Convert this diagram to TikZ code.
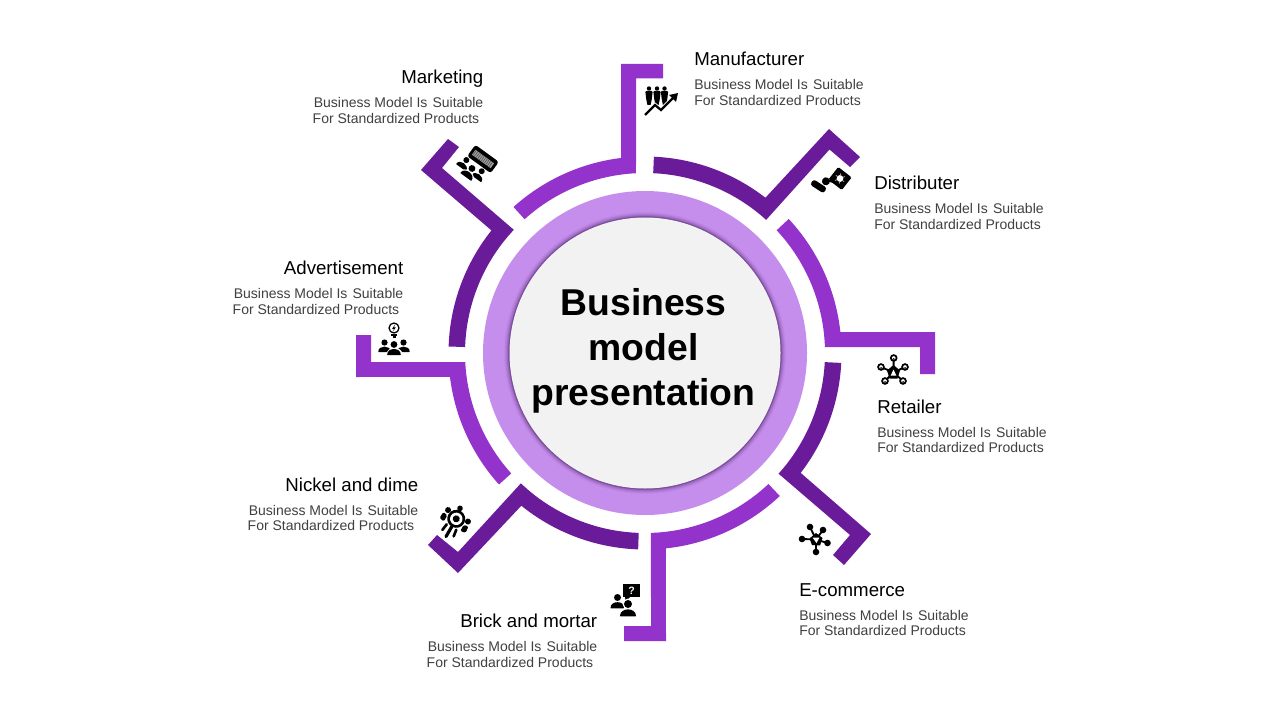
\documentclass[tikz,border=0pt]{standalone}
\usepackage{fontspec}
\setmainfont{Liberation Sans}
\usetikzlibrary{calc}
\definecolor{segL}{HTML}{9433CB}
\definecolor{segD}{HTML}{6A1B9A}
\definecolor{ringC}{HTML}{C58EEC}
\definecolor{discC}{HTML}{F2F2F2}
\definecolor{subC}{HTML}{404040}
\tikzset{
  seglight/.style={fill=segL},
  segdark/.style={fill=segD},
  headtext/.style={inner sep=0pt,font=\fontsize{14}{16}\selectfont,text=black},
  subtext/.style={inner sep=0pt,font=\fontsize{10.5}{12}\selectfont,text=subC}
}
\newcommand{\manL}[6]{%
  \node[headtext,anchor=base west] (#1h) at (#2,#3) {#4};
  \node[subtext,anchor=base west] (#1a) at (#2,#3+24) {#5};
  \node[subtext,anchor=base west] (#1b) at (#2,#3+39.6) {#6};}
\newcommand{\manR}[6]{%
  \node[headtext,anchor=base east] (#1h) at (#2,#3) {#4};
  \node[subtext,anchor=base east] (#1a) at (#2,#3+24) {#5};
  \node[subtext,anchor=base east] (#1b) at (#2-4,#3+39.6) {#6};}
% person: head centre x,y radius r
\newcommand{\pers}[3]{%
  \fill[black] (#1,#2) circle[radius=#3];
  \fill[black,rounded corners=0.4pt] ({#1-2*#3},{#2+3.1*#3}) .. controls ({#1-2*#3},{#2+0.8*#3}) and ({#1+2*#3},{#2+0.8*#3}) .. ({#1+2*#3},{#2+3.1*#3}) -- cycle;}
\newcommand{\persW}[3]{%
  \fill[white] ({#1-2.5*#3},{#2+3.5*#3}) .. controls ({#1-2.5*#3},{#2+0.1*#3}) and ({#1+2.5*#3},{#2+0.1*#3}) .. ({#1+2.5*#3},{#2+3.5*#3}) -- cycle;
  \fill[white] (#1,#2) circle[radius=1.35*#3];
  \pers{#1}{#2}{#3}}
\begin{document}
\begin{tikzpicture}[x=0.75pt,y=-0.75pt]
\useasboundingbox (0,0) rectangle (1280,720);
\fill[white] (0,0) rectangle (1280,720);
\coordinate (c) at (645,353);
% centre rings
\fill[ringC] (c) circle[radius=162];
\foreach \rr/\oo in {141/0.04,140/0.06,139/0.08,138/0.12,137/0.16,136.5/0.2}{
  \fill[black!50!segD,opacity=\oo] (c) circle[radius=\rr];}
\fill[discC] (c) circle[radius=135.5];
% segments
\fill[seglight] ($(c)+(-132:196.5)$) arc[start angle=-132,end angle=-97,radius=196.5]
  -- (621,64) -- (663,64) -- (663,78.5) -- (636,78.5)
  -- ($(c)+(-92.87:180)$) arc[start angle=-92.87,end angle=-132,radius=180] -- cycle;
\fill[segdark] ($(c)+(-87.4:196.5)$) arc[start angle=-87.4,end angle=-52.2,radius=196.5]
  -- (829,129) -- (860,157) -- (850,167) -- (829.5,149.5)
  -- ($(c)+(-47.7:180)$) arc[start angle=-47.7,end angle=-87.4,radius=180] -- cycle;
\fill[seglight] ($(c)+(-43:196.5)$) arc[start angle=-43,end angle=-6.1,radius=196.5]
  -- (935,332) -- (935,374) -- (920,374) -- (920,347)
  -- ($(c)+(-1.9:180)$) arc[start angle=-1.9,end angle=-43,radius=180] -- cycle;
\fill[segdark] ($(c)+(2.9:196.5)$) arc[start angle=2.9,end angle=37.6,radius=196.5]
  -- (871,534) -- (844,565) -- (833,555) -- (850,535)
  -- ($(c)+(42.1:180)$) arc[start angle=42.1,end angle=2.9,radius=180] -- cycle;
\fill[seglight] ($(c)+(46.7:196.5)$) arc[start angle=46.7,end angle=83.9,radius=196.5]
  -- (666,641) -- (624,641) -- (624,626) -- (651,626)
  -- ($(c)+(88.1:180)$) arc[start angle=88.1,end angle=46.7,radius=180] -- cycle;
\fill[segdark] ($(c)+(92:196.5)$) arc[start angle=92,end angle=129,radius=196.5]
  -- (458,573) -- (428,545) -- (437,535) -- (458,552)
  -- ($(c)+(133.6:180)$) arc[start angle=133.6,end angle=92,radius=180] -- cycle;
\fill[seglight] ($(c)+(138:196.5)$) arc[start angle=138,end angle=173,radius=196.5]
  -- (356,377) -- (356,335) -- (371,335) -- (371,362)
  -- ($(c)+(177.13:180)$) arc[start angle=177.13,end angle=138,radius=180] -- cycle;
\fill[segdark] ($(c)+(181.9:196.5)$) arc[start angle=181.9,end angle=218.6,radius=196.5]
  -- (421,170) -- (448,139) -- (459,147) -- (442,168)
  -- ($(c)+(223.2:180)$) arc[start angle=223.2,end angle=181.9,radius=180] -- cycle;
% title
\node[inner sep=0pt,align=center,font=\fontsize{28}{33.75}\selectfont\bfseries,text=black] (title) at (643.5,351) {Business\\model\\presentation};
% labels
\manL{man}{694}{65.5}{Manufacturer}{Business Model Is\hspace{1pt} Suitable}{For Standardized Products}
\manL{dis}{874}{189.5}{Distributer}{Business Model Is\hspace{1pt} Suitable}{For Standardized Products}
\manL{ret}{877}{413}{Retailer}{Business Model Is\hspace{1pt} Suitable}{For Standardized Products}
\manL{eco}{799}{596}{E-commerce}{Business Model Is\hspace{1pt} Suitable}{For Standardized Products}
\manR{mkt}{483.5}{84}{Marketing}{Business Model Is\hspace{1pt} Suitable}{For Standardized Products}
\manR{adv}{403.5}{274.5}{Advertisement}{Business Model Is\hspace{1pt} Suitable}{For Standardized Products}
\manR{nic}{418.5}{491}{Nickel and dime}{Business Model Is\hspace{1pt} Suitable}{For Standardized Products}
\manR{bri}{597.5}{627.5}{Brick and mortar}{Business Model Is\hspace{1pt} Suitable}{For Standardized Products}
% icon: manufacturer
\foreach \xx in {649,657,664.5}{
  \fill[black] (\xx,88.5) circle[radius=2.2];
  \fill[black] (\xx-3.6,92) -- (\xx-2.5,91) -- (\xx+2.5,91) -- (\xx+3.6,92) -- (\xx+2.8,99) -- (\xx+1.6,105) -- (\xx-1.6,105) -- (\xx-2.8,99) -- cycle;}
\draw[white,line width=3pt] (645,115) -- (655,105) -- (661,110) -- (676,95);
\draw[black,line width=1.7pt] (645,115) -- (655,105) -- (661,110) -- (674,97);
\fill[black] (678,93) -- (676,102) -- (669,95) -- cycle;
% icon: distributer
\begin{scope}[shift={(820,184)},rotate=-33]
  \fill[black] (3.5,-5.5) circle[radius=4];
  \fill[black,rounded corners=2pt] (-8,6) -- (-8,-0.5) -- (8,-0.5) -- (8,6) -- cycle;
\end{scope}
\begin{scope}[shift={(840,178.5)},rotate=-38]
  \fill[black,rounded corners=1pt] (-8.5,-8) rectangle (8.5,8);
  \fill[black] (-6,7) -- (-12,11) -- (0,7) -- cycle;
  \fill[white] (0,0) circle[radius=3.4];
  \foreach \aa in {0,60,...,300}{\draw[gray!70,line width=0.6pt] (\aa:3.4) -- (\aa:5.2);}
\end{scope}
% icon: retailer
\foreach \nn/\px/\py in {a/893.7/358,b/881/367,d/905/367,e/885/381,f/903/381}{
  \coordinate (r\nn) at (\px,\py);
  \draw[black,line width=1.4pt] (893.5,372.5) -- (r\nn);}
\foreach \nn in {a,b,d,e,f}{
  \fill[white,draw=black,line width=1.3pt] (r\nn) circle[radius=2.9];
  \fill[black] (r\nn) ++(-1.6,1.6) -- ++(3.2,0) arc[start angle=0,end angle=-180,radius=1.6] -- cycle;}
\fill[black] (893.5,365) -- (900,370.5) -- (897.5,378.5) -- (889.5,378.5) -- (887,370.5) -- cycle;
\fill[white] (893.5,369.5) -- (896.3,375.5) -- (890.7,375.5) -- cycle;
% icon: e-commerce
\foreach \nn/\px/\py in {a/810/527,b/823/530,d/802/539,e/827.5/543,f/816/552}{
  \coordinate (e\nn) at (\px,\py);
  \draw[black,line width=1.4pt] (816,539.5) -- (e\nn);
  \fill[black] (e\nn) circle[radius=3.3];}
\fill[black] (816,533) -- (822.5,538) -- (820,545.5) -- (812,545) -- (809.5,538.5) -- cycle;
\fill[white] (812.5,537.5) -- (819.5,537.5) -- (816.5,543) -- cycle;
% icon: brick and mortar
\fill[black] (623,584) rectangle (639.5,597);
\fill[black] (625,596) -- (625.5,601.5) -- (631,596) -- cycle;
\node[inner sep=0pt,text=white,font=\fontsize{8}{8}\bfseries\selectfont] (qm) at (631.5,590.5) {?};
\pers{617.5}{597.5}{3.5}
\persW{628}{604}{4}
% icon: nickel and dime
\begin{scope}[shift={(455,521)},rotate=-30]
  \fill[black] (0,-2.5) circle[radius=9];
  \fill[white] (0,-2.5) circle[radius=6.2];
  \fill[black] (0,-2.5) circle[radius=3.5];
  \draw[black,line width=2.4pt,line cap=round] (0,6) -- (0,18);
  \draw[black,line width=2pt,line cap=round] (-5.5,7) -- (-6.5,14);
  \draw[black,line width=2pt,line cap=round] (5.5,7) -- (6.5,14);
  \fill[black] (-11.5,-6) circle[radius=3];
  \fill[black,rounded corners=1pt] (-15,5) -- (-14.5,-2) -- (-9.5,-1) -- (-9.5,6) -- cycle;
  \fill[black] (11.5,-6) circle[radius=3];
  \fill[black,rounded corners=1pt] (15,5) -- (14.5,-2) -- (9.5,-1) -- (9.5,6) -- cycle;
  \fill[black] (-2,-13.5) circle[radius=2.8];
\end{scope}
% icon: advertisement
\draw[black,line width=0.95pt] (394,328) circle[radius=5];
\fill[black] (395,324.6) -- (392.2,328.8) -- (394,328.8) -- (393,331.4) -- (395.8,327.4) -- (394,327.4) -- cycle;
\draw[black,line width=0.85pt] (391.3,335) -- (396.7,335) (392.5,337) -- (395.5,337);
\pers{384.5}{342.5}{3.1}
\pers{403.5}{342.5}{3.1}
\persW{394}{344.5}{3.4}
% icon: marketing
\begin{scope}[shift={(483,159)},rotate=-36]
  \fill[black,rounded corners=2pt] (-14.5,-7) rectangle (14.5,7);
  \fill[gray!75] (-11.5,-3) rectangle (11.5,3);
  \foreach \xx in {-10.5,-8.5,...,10.5}{\draw[black!70,line width=0.4pt] (\xx,-3) -- (\xx,3);}
\end{scope}
\begin{scope}[shift={(470.5,170.5)},rotate=-36]
  \pers{-9.5}{-6}{3}
  \pers{9.5}{-6}{3}
  \persW{0}{-2.5}{3.4}
\end{scope}
\end{tikzpicture}
\end{document}
